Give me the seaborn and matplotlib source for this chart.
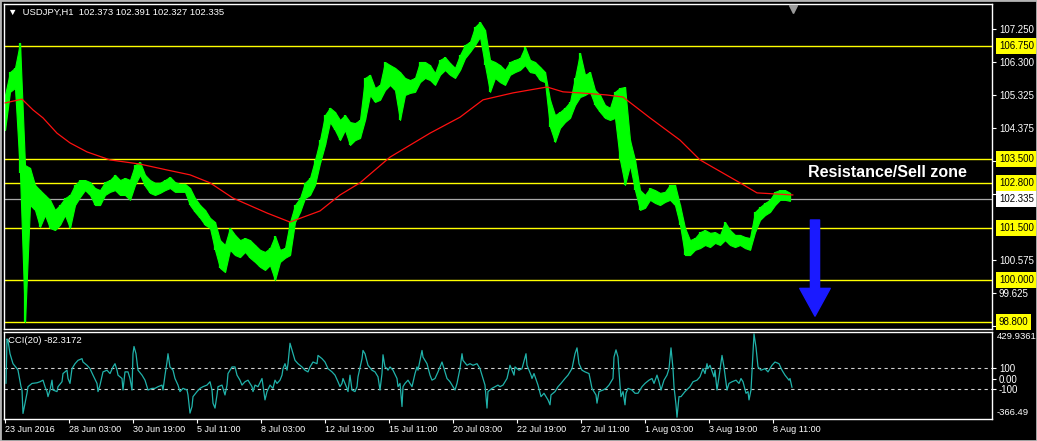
import numpy as np
import matplotlib
matplotlib.use("Agg")
import matplotlib.pyplot as plt
import matplotlib.transforms as mtransforms
from matplotlib.patches import Rectangle
import seaborn as sns

sns.set_style("dark", {"axes.facecolor": "black", "figure.facecolor": "black"})
FONT = ['Liberation Sans', 'DejaVu Sans']
plt.rcParams['font.family'] = FONT

# USDJPY H1, one sample every 5 bars starting 23 Jun 2016 (high / low of the block)
bar_step = 5
bar_high = [
    105.34, 106.00, 106.12, 106.84, 103.32, 103.24, 102.75, 102.60, 102.46, 102.32,
    102.03, 102.17, 102.37, 102.46, 102.75, 102.89, 102.89, 102.83, 102.66, 102.60,
    102.83, 102.89, 103.04, 102.89, 102.95, 102.89, 103.32, 103.41, 103.04, 102.89,
    102.81, 102.81, 102.89, 102.98, 102.83, 102.78, 102.78, 102.66, 102.37, 102.17,
    102.03, 101.80, 101.68, 101.16, 101.02, 101.51, 101.31, 101.16, 101.22, 101.16,
    101.02, 100.88, 100.82, 100.93, 101.28, 100.88, 100.93, 101.68, 102.17, 102.37,
    102.81, 102.95, 103.47, 104.04, 104.76, 104.97, 104.85, 104.62, 104.76, 104.56,
    104.53, 104.62, 105.83, 105.92, 105.54, 105.63, 106.29, 106.20, 106.12, 106.00,
    105.83, 105.77, 105.83, 106.29, 106.29, 106.20, 105.97, 106.35, 106.43, 106.26,
    106.12, 106.49, 106.78, 106.87, 107.30, 107.44, 107.21, 106.35, 106.29, 106.20,
    106.06, 106.29, 106.35, 106.40, 106.72, 106.35, 106.29, 106.15, 106.00, 105.20,
    104.76, 104.85, 104.97, 105.14, 105.83, 106.55, 105.92, 106.00, 105.48, 105.34,
    105.05, 104.97, 105.43, 105.54, 105.57, 104.04, 103.47, 102.60, 102.46, 102.66,
    102.60, 102.52, 102.55, 102.75, 102.75, 102.17, 101.51, 101.16, 101.22, 101.39,
    101.45, 101.37, 101.39, 101.31, 101.68, 101.45, 101.31, 101.31, 101.25, 101.22,
    101.97, 102.11, 102.23, 102.32, 102.55, 102.60, 102.60, 102.52,
]
bar_low = [
    104.33, 105.43, 105.54, 103.09, 98.80, 102.17, 102.03, 101.54, 101.88, 101.51,
    101.45, 101.60, 101.88, 101.51, 102.17, 102.40, 102.60, 102.46, 102.17, 102.17,
    102.46, 102.55, 102.60, 102.46, 102.46, 102.32, 102.75, 103.04, 102.72, 102.52,
    102.46, 102.52, 102.60, 102.66, 102.55, 102.55, 102.55, 102.17, 101.97, 101.80,
    101.60, 101.51, 100.88, 100.36, 100.24, 100.88, 100.73, 100.67, 100.82, 100.65,
    100.53, 100.39, 100.30, 100.44, 100.01, 100.53, 100.65, 100.73, 101.68, 101.97,
    102.37, 102.46, 102.75, 103.38, 103.90, 104.56, 104.33, 104.04, 104.33, 103.90,
    104.04, 104.10, 104.62, 105.34, 105.14, 105.20, 105.48, 105.63, 105.48, 104.62,
    105.34, 105.40, 105.43, 105.71, 105.83, 105.77, 105.63, 105.92, 106.06, 105.92,
    105.83, 106.06, 106.40, 106.58, 106.78, 107.01, 106.20, 105.43, 105.83, 105.71,
    105.63, 105.92, 106.00, 106.06, 106.20, 106.00, 105.97, 105.77, 105.71, 104.42,
    103.99, 104.39, 104.56, 104.68, 105.05, 105.28, 105.34, 105.43, 105.05, 104.85,
    104.68, 104.62, 104.68, 103.47, 102.75, 103.32, 102.60, 102.03, 102.09, 102.32,
    102.23, 102.17, 102.26, 102.32, 102.17, 101.60, 100.73, 100.73, 100.88, 100.93,
    101.02, 100.96, 101.08, 101.02, 101.16, 101.02, 100.96, 101.02, 100.93, 100.88,
    101.39, 101.74, 101.88, 101.97, 102.17, 102.32, 102.32, 102.29,
]

# red moving average
ma_bar = [0, 17, 28, 38, 52, 65, 82, 105, 135, 162, 185, 205, 228, 262, 285, 315, 335,
          355, 385, 425, 455, 478, 508, 542, 558, 575, 602, 618, 645, 675, 695, 735, 752, 788]
ma_value = [105.11, 105.22, 104.91, 104.68, 104.24, 103.96, 103.70, 103.47, 103.35, 103.18,
            103.04, 102.81, 102.37, 101.94, 101.68, 102.00, 102.46, 102.81, 103.55, 104.24,
            104.70, 105.20, 105.40, 105.57, 105.43, 105.40, 105.34, 105.28, 104.68, 104.04,
            103.47, 102.81, 102.52, 102.46]

# CCI(20)
cci_bar = [
    1, 2, 3, 5, 8, 12, 13, 16, 17, 18, 20, 22, 23, 27, 32, 35, 38, 40, 42, 43,
    45, 47, 48, 52, 53, 57, 58, 62, 63, 65, 67, 70, 73, 77, 78, 82, 85, 88, 92, 93,
    95, 98, 102, 105, 108, 110, 112, 113, 117, 118, 120, 123, 125, 127, 128, 129, 131, 133, 137, 140,
    143, 147, 150, 153, 157, 158, 160, 162, 163, 165, 168, 170, 173, 175, 178, 182, 183, 185, 187, 188,
    192, 195, 198, 202, 205, 207, 208, 210, 212, 213, 217, 220, 222, 223, 227, 230, 232, 235, 237, 240,
    243, 247, 248, 250, 253, 257, 260, 262, 265, 268, 270, 272, 275, 277, 278, 280, 282, 283, 285, 288,
    290, 293, 297, 300, 303, 305, 308, 312, 313, 317, 320, 323, 327, 330, 333, 335, 337, 338, 342, 343,
    345, 347, 350, 352, 353, 357, 358, 360, 363, 367, 370, 373, 375, 377, 378, 380, 382, 383, 385, 388,
    392, 393, 395, 397, 398, 400, 403, 407, 410, 412, 413, 415, 417, 418, 422, 425, 427, 430, 433, 437,
    438, 442, 445, 448, 450, 452, 455, 457, 458, 462, 465, 468, 472, 475, 477, 480, 482, 483, 487, 490,
    493, 495, 498, 502, 505, 509, 510, 514, 517, 521, 522, 526, 527, 529, 533, 536, 539, 543, 545, 546,
    550, 553, 556, 560, 563, 567, 570, 572, 574, 577, 580, 584, 587, 591, 592, 594, 598, 601, 604, 608,
    609, 611, 613, 615, 616, 618, 620, 621, 623, 627, 630, 633, 637, 640, 644, 647, 649, 652, 654, 656,
    659, 662, 664, 666, 668, 669, 671, 672, 674, 676, 680, 685, 688, 692, 695, 698, 700, 702, 703, 705,
    709, 710, 712, 714, 717, 719, 722, 724, 727, 731, 734, 736, 738, 741, 743, 744, 746, 749, 751, 753,
    756, 760, 763, 767, 770, 774, 777, 780, 784, 785, 787,
]
cci_value = [
    -44, 380, 364, 239, 144, 97, 82, -75, -107, -330, -232, -138, -75, -44, -38, -28, -13, -75, -122, -170,
    -107, -13, -107, -122, -75, -28, 50, 82, 3, -44, 97, 144, 176, 192, 160, 129, 97, 35, -44, -122,
    -60, 66, 82, 50, 113, 144, 82, 35, 3, -107, 66, 66, 3, -107, 239, 308, 239, 82, 35, -13,
    -107, -91, -91, -75, -60, -107, 35, 160, 239, 113, 82, 3, -60, -122, -91, -107, -154, -327, -264, -170,
    -122, -91, -75, -60, -28, -107, -232, -279, -154, -75, -60, -154, -60, 50, 113, 113, 35, -13, -60, -28,
    -13, -75, -122, -60, -75, 3, -201, -122, -60, -91, -13, -44, -13, 35, 97, 144, 82, 144, 339, 239,
    176, 144, 113, 82, 66, 113, 160, 144, 223, 192, 160, 97, 66, 35, -28, -75, -44, 3, -91, -122,
    35, -107, -122, -75, 19, 192, 270, 239, 129, 82, 66, 19, -107, 50, 229, 113, 97, 82, 113, 82,
    3, -75, -44, -264, -75, -44, -13, -75, 50, 113, 82, 176, 270, 207, 144, 35, -13, 3, 66, 160,
    129, 3, -28, -75, -107, -44, 97, 239, 176, 129, 144, 129, 144, 97, 35, -60, -279, -122, -91, -75,
    -60, -75, -60, 3, 129, 35, 113, 82, 97, 239, 129, 35, 3, 50, -60, -170, -138, -201, -248, -154,
    -122, -75, -44, 3, 35, 97, 239, 295, 144, 82, 66, 50, -91, -154, -232, -122, -107, -91, -60, 3,
    207, 276, 207, -60, -170, -122, -248, -138, -91, -107, -138, -138, -75, -44, -13, 3, -44, 35, -28, -107,
    -13, 35, 97, 295, 97, -75, -248, -366, -170, -170, -122, -75, -28, -13, 19, 97, 50, 144, 97, 129,
    19, 82, -107, 19, 223, 113, -107, -44, -28, -13, -44, 3, -28, -138, -122, -201, -107, 428, 301, 113,
    82, 97, 66, 129, 160, 144, 82, 35, -13, 3, -82,
]

levels = [106.75, 103.5, 102.8, 101.5, 100.0, 98.8]
last_price = 102.335
price_ticks = [107.250, 106.300, 105.325, 104.375, 103.425, 102.475, 100.575, 99.625, 98.675]
time_ticks = [0, 64, 128, 192, 256, 320, 384, 448, 512, 576, 640, 704, 768]
time_labels = ['23 Jun 2016', '28 Jun 03:00', '30 Jun 19:00', '5 Jul 11:00', '8 Jul 03:00',
               '12 Jul 19:00', '15 Jul 11:00', '20 Jul 03:00', '22 Jul 19:00', '27 Jul 11:00',
               '1 Aug 03:00', '3 Aug 19:00', '8 Aug 11:00']

W, H = 1037, 441
fig = plt.figure(figsize=(W / 100, H / 100), dpi=100)
ax = fig.add_axes([4 / W, 1 - 329 / H, 988 / W, 325 / H])
ax_cci = fig.add_axes([4 / W, 1 - 419 / H, 988 / W, 87 / H])

# ---- price panel
for lv in levels:
    ax.axhline(lv, color='#ffff00', lw=1.0, zorder=1)
ax.axhline(last_price, color='#a8a8a8', lw=0.9, zorder=1)

bars_x = np.arange(len(bar_high)) * bar_step
ax.fill_between(bars_x, bar_low, bar_high, color='#00ff00', lw=0.8,
                edgecolor='#00ff00', zorder=2)
ax.vlines(bars_x, bar_low, bar_high, color='#00ff00', lw=1.6, zorder=2)
sns.lineplot(x=ma_bar, y=ma_value, ax=ax, color='#ff1010', lw=0.9, legend=False, zorder=3)

ax.set_xlim(-1, 987)
ax.set_ylim(98.60, 107.96)
ax.set_xlabel('')
ax.set_ylabel('')
ax.set_xticks([])
ax.yaxis.tick_right()
ax.set_yticks(price_ticks)
ax.set_yticklabels([f'{t:.3f}' for t in price_ticks])
ax.tick_params(axis='y', right=True, left=False, labelright=True, labelleft=False,
               length=3, width=0.8, color='white', labelcolor='white', labelsize=7, pad=2)

right = mtransforms.blended_transform_factory(ax.transAxes, ax.transData)
box_shift = mtransforms.ScaledTranslation(5 / 72, 0, fig.dpi_scale_trans)
for lv in levels:
    ax.text(1.0, lv, f'{lv:.3f}', transform=right + box_shift, ha='left', va='center',
            fontsize=7, color='black', clip_on=False, zorder=6,
            bbox=dict(boxstyle='square,pad=0.3', fc='#ffff00', ec='none'))
ax.text(1.0, last_price, f'{last_price:.3f}', transform=right + box_shift, ha='left',
        va='center', fontsize=7, color='black', clip_on=False, zorder=6,
        bbox=dict(boxstyle='square,pad=0.3', fc='white', ec='none'))

ax.text(0.004, 0.975, '\u25bc  USDJPY,H1  102.373 102.391 102.327 102.335', transform=ax.transAxes,
        ha='left', va='center', fontsize=6.8, color='white')
ax.text(803, 103.12, 'Resistance/Sell zone', ha='left', va='center', fontsize=11.5,
        fontweight='bold', color='white', zorder=5)
ax.annotate('', xy=(810, 98.97), xytext=(810, 101.74),
            arrowprops=dict(arrowstyle='simple,head_length=1.0,head_width=1.1,tail_width=0.33',
                            color='#1a1aff', mutation_scale=20, shrinkA=0, shrinkB=0), zorder=5)
top_mark = mtransforms.blended_transform_factory(ax.transData, ax.transAxes)
ax.plot([788], [0.985], marker='v', ms=6, color='#9a9a9a', transform=top_mark,
        clip_on=False, zorder=6)

# ---- CCI panel
ax_cci.axhline(100, color='#d0d0d0', lw=0.8, ls=(0, (3, 3)))
ax_cci.axhline(-100, color='#d0d0d0', lw=0.8, ls=(0, (3, 3)))
sns.lineplot(x=cci_bar, y=cci_value, ax=ax_cci, color='#20b2aa', lw=0.9, legend=False)
ax_cci.set_xlim(-1, 987)
ax_cci.set_ylim(-383, 446)
ax_cci.set_xlabel('')
ax_cci.set_ylabel('')
ax_cci.yaxis.tick_right()
ax_cci.set_yticks([100, 0, -100])
ax_cci.set_yticklabels(['100', '0.00', '-100'])
ax_cci.tick_params(axis='y', right=True, left=False, labelright=True, labelleft=False,
                   length=3, width=0.8, color='white', labelcolor='white', labelsize=7, pad=2)
ax_cci.set_xticks(time_ticks)
ax_cci.set_xticklabels(time_labels, ha='left')
ax_cci.tick_params(axis='x', bottom=True, length=3, width=0.8, color='white',
                   labelcolor='white', labelsize=6.5, pad=1)
ax_cci.text(1.005, 0.95, '429.9361', transform=ax_cci.transAxes, ha='left', va='center',
            fontsize=6.8, color='white', clip_on=False)
ax_cci.text(1.005, 0.08, '-366.49', transform=ax_cci.transAxes, ha='left', va='center',
            fontsize=6.8, color='white', clip_on=False)
ax_cci.text(0.004, 0.9, 'CCI(20) -82.3172', transform=ax_cci.transAxes, ha='left',
            va='center', fontsize=6.8, color='white')

for a in (ax, ax_cci):
    a.grid(False)
    for s in a.spines.values():
        s.set_color('white')
        s.set_linewidth(1.0)

fig.patches.append(Rectangle((0, 0), 1, 1, transform=fig.transFigure, fill=False,
                             ec='#b4b4b4', lw=2.0))

fig.savefig('out.png', dpi=100, facecolor='black')
